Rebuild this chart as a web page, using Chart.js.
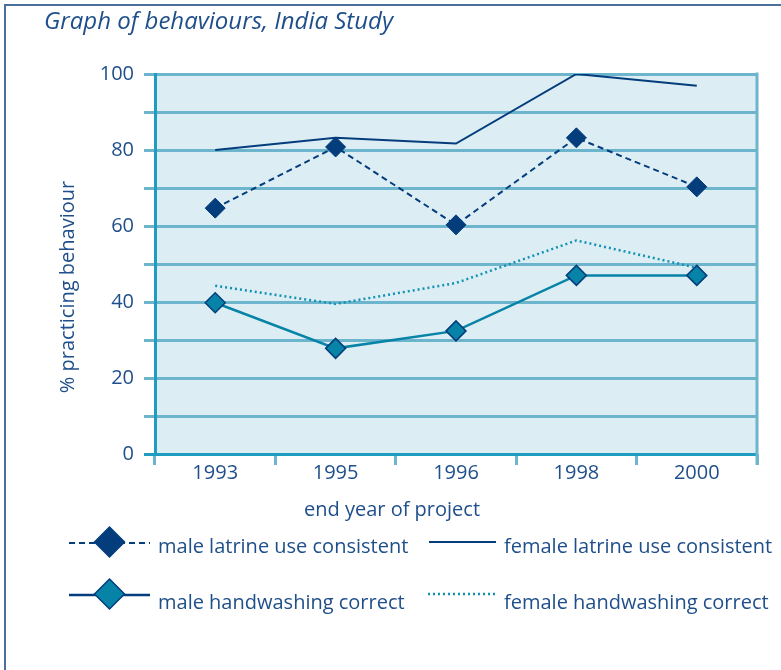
<!DOCTYPE html>
<html>
<head>
<meta charset="utf-8">
<script src="https://cdn.jsdelivr.net/npm/chart.js@4"></script>
<style>
  body { margin: 0; background: #fff; }
  #wrap { width: 781px; height: 670px; }
</style>
</head>
<body>
<div id="wrap"><canvas id="myChart" width="781" height="670"></canvas></div>
<script>
// values
const years = ['1993', '1995', '1996', '1998', '2000'];
const maleLatrine = [64.7, 80.8, 60.3, 83.2, 70.3];
const femaleLatrine = [80, 83.2, 81.7, 100, 96.9];
const maleHandwash = [39.8, 27.8, 32.4, 47, 47];
const femaleHandwash = [44.3, 39.5, 45, 56.2, 49];

const navy = '#033d7c';
const teal = '#0683a6';
const dotTeal = '#1092b4';
const gridCol = '#6db5cc';
const axisCol = '#1f9cc2';
const txt = '#1f4f8a';
const font = '"Open Sans"';

let ctx = document.getElementById('myChart').getContext('2d');

function diamond(c, x, y, r, fill, stroke) {
    c.beginPath();
    c.moveTo(x - r, y); c.lineTo(x, y - r); c.lineTo(x + r, y); c.lineTo(x, y + r);
    c.closePath();
    c.fillStyle = fill; c.fill();
    if (stroke) { c.lineWidth = 1.5; c.strokeStyle = stroke; c.stroke(); }
}

// background, frame, texts and legend
const decor = {
    id: 'decor',
    beforeDraw(chart) {
        const c = chart.ctx, a = chart.chartArea;
        c.save();
        c.fillStyle = '#ddedf4';
        c.fillRect(a.left, a.top, a.right - a.left, a.bottom - a.top);
        // page frame
        c.strokeStyle = '#4b6f9b';
        c.lineWidth = 2;
        c.beginPath();
        c.moveTo(5, 670); c.lineTo(5, 5); c.lineTo(781, 5);
        c.stroke();
        c.restore();
    },
    beforeDatasetsDraw(chart) {
        const c = chart.ctx, a = chart.chartArea;
        c.save();
        c.strokeStyle = gridCol;
        c.lineWidth = 3;
        c.beginPath();
        c.moveTo(a.right, a.top - 1.5); c.lineTo(a.right, a.bottom + 11);
        c.stroke();
        c.restore();
    },
    afterDraw(chart) {
        const c = chart.ctx;
        c.save();
        c.fillStyle = txt;
        c.textBaseline = 'alphabetic';
        c.font = 'italic 24px ' + font;
        c.textAlign = 'left';
        c.fillText('Graph of behaviours, India Study', 44, 29);

        c.font = '20px ' + font;
        c.textAlign = 'center';
        c.fillText('end year of project', 392, 516);

        c.save();
        c.translate(74, 287);
        c.rotate(-Math.PI / 2);
        c.fillText('% practicing behaviour', 0, 0);
        c.restore();

        // legend
        const ds = chart.data.datasets;
        const items = [
            { x: 69, y: 543, ty: 553, w: 81, d: ds[0], mk: true },
            { x: 429, y: 542, ty: 553, w: 67, d: ds[1], mk: false },
            { x: 69, y: 595, ty: 609, w: 81, d: ds[2], mk: true },
            { x: 428, y: 594, ty: 609, w: 68, d: ds[3], mk: false }
        ];
        items.forEach(it => {
            c.save();
            c.strokeStyle = it.d.legendLine || it.d.borderColor;
            c.lineWidth = it.d.borderWidth;
            c.setLineDash(it.d.borderDash || []);
            c.beginPath();
            c.moveTo(it.x, it.y); c.lineTo(it.x + it.w, it.y);
            c.stroke();
            c.setLineDash([]);
            if (it.mk) diamond(c, it.x + it.w / 2, it.y - 1, 15, it.d.pointBackgroundColor, it.d.pointBorderColor);
            c.restore();
            c.fillStyle = txt;
            c.textAlign = 'left';
            c.textBaseline = 'alphabetic';
            c.font = '20px ' + font;
            c.fillText(it.d.label, it.x + it.w + 8, it.ty);
        });
        c.restore();
    }
};

let chart = new Chart(ctx, {
    type: 'line',
    data: {
        labels: years,
        datasets: [{
            label: 'male latrine use consistent',
            data: maleLatrine,
            borderColor: navy,
            borderWidth: 2,
            borderDash: [6, 4],
            pointStyle: 'rectRot',
            pointRadius: 10,
            pointBackgroundColor: navy,
            pointBorderColor: navy,
            pointBorderWidth: 1,
            tension: 0
        }, {
            label: 'female latrine use consistent',
            data: femaleLatrine,
            borderColor: navy,
            borderWidth: 2,
            pointRadius: 0,
            tension: 0
        }, {
            label: 'male handwashing correct',
            data: maleHandwash,
            borderColor: teal,
            legendLine: navy,
            borderWidth: 2.5,
            pointStyle: 'rectRot',
            pointRadius: 10,
            pointBackgroundColor: teal,
            pointBorderColor: navy,
            pointBorderWidth: 1.5,
            tension: 0
        }, {
            label: 'female handwashing correct',
            data: femaleHandwash,
            borderColor: dotTeal,
            borderWidth: 2.5,
            borderDash: [2, 3],
            pointRadius: 0,
            tension: 0
        }]
    },
    options: {
        responsive: false,
        animation: false,
        layout: { padding: { top: 74, right: 24, left: 0, bottom: 0 } },
        plugins: { legend: { display: false }, tooltip: { enabled: false }, title: { display: false } },
        scales: {
            x: {
                offset: true,
                afterFit(s) { s.height = 216; },
                grid: { offset: true, drawOnChartArea: false, color: gridCol, lineWidth: 3, tickLength: 11 },
                border: { display: false },
                ticks: { color: txt, font: { family: font, size: 20 }, padding: -4 }
            },
            y: {
                min: 0,
                max: 100,
                afterFit(s) { s.width = 155; },
                grid: {
                    color: c => c.tick && c.tick.value === 0 ? axisCol : gridCol,
                    lineWidth: 3,
                    tickLength: 11
                },
                border: { display: true, color: axisCol, width: 3 },
                ticks: {
                    stepSize: 10,
                    color: txt,
                    padding: 10,
                    font: { family: font, size: 20 },
                    callback: v => v % 20 === 0 ? v : ''
                }
            }
        }
    },
    plugins: [decor]
});
</script>
</body>
</html>
